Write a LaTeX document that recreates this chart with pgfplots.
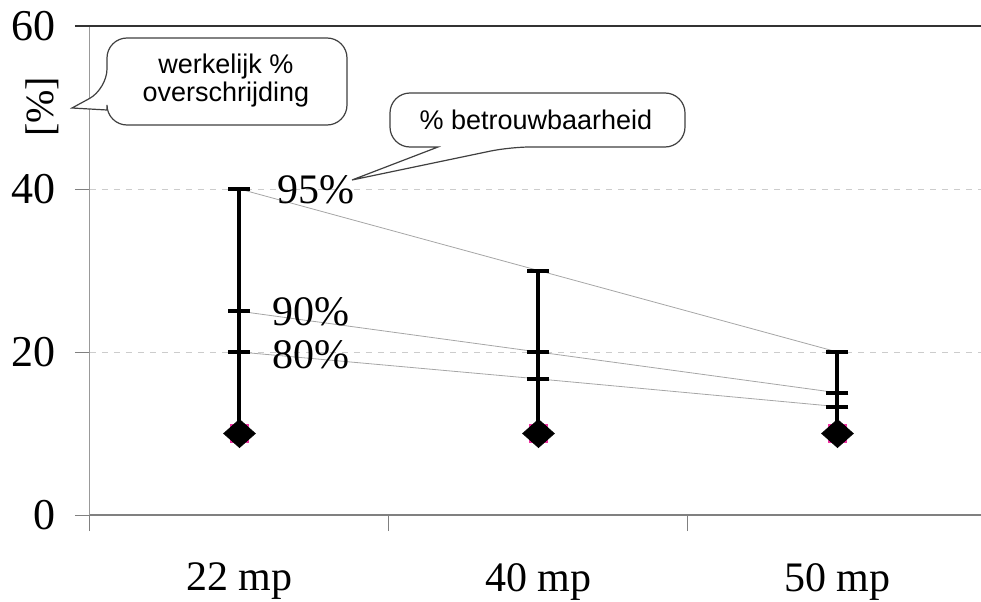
\documentclass[border=0pt]{standalone}
\usepackage{fontspec}
\setmainfont{Liberation Serif}
\newfontfamily\callfont{Liberation Sans}
\usepackage{pgfplots}
\pgfplotsset{compat=1.18}

\begin{document}
\begin{tikzpicture}
\begin{axis}[
    scale only axis,
    width=445.5pt, height=244.5pt,
    xmin=-0.5, xmax=2.48,
    ymin=0, ymax=60,
    clip=false,
    axis x line*=bottom,
    axis y line*=left,
    x axis line style={-, gray, line width=1pt},
    y axis line style={-, gray!80, line width=0.5pt},
    xtick={0,1,2},
    xticklabels={22 mp, 40 mp, 50 mp},
    major x tick style={draw=none},
    minor xtick={-0.5,0.5,1.5},
    minor x tick style={gray, line width=0.5pt},
    minor tick length=8pt,
    ytick={0,20,40,60},
    y tick style={gray, line width=0.5pt},
    major tick length=7.5pt,
    tick align=outside,
    ymajorgrids,
    major grid style={dashed, gray!40, line width=0.5pt},
    /pgf/number format/assume math mode=true,
    yticklabel style={font=\fontsize{22}{24}\selectfont, xshift=-6pt},
    xticklabel style={font=\fontsize{21}{24}\selectfont, yshift=-13pt},
]
% connecting lines for each reliability level
\addplot[gray!70, line width=0.4pt] coordinates {(0,40) (1,30) (2,20)};
\addplot[gray!70, line width=0.4pt] coordinates {(0,25) (1,20) (2,15)};
\addplot[gray!70, line width=0.4pt] coordinates {(0,20) (1,16.7) (2,13.3)};
% vertical bars
\addplot[black, line width=2pt] coordinates {(0,10) (0,40)};
\addplot[black, line width=2pt] coordinates {(1,10) (1,30)};
\addplot[black, line width=2pt] coordinates {(2,10) (2,20)};
% caps
\addplot[only marks, mark=-, mark size=5.5pt, mark options={black, line width=2pt}]
    coordinates {(0,40) (0,25) (0,20) (1,30) (1,20) (1,16.7) (2,20) (2,15) (2,13.3)};
% actual exceedance
\addplot[only marks, mark=square*, mark size=4.5pt, mark options={magenta!80, draw=none}]
    coordinates {(0,10) (1,10) (2,10)};
\addplot[only marks, mark=diamond*, mark size=7pt, mark options={black, xscale=1.5}]
    coordinates {(0,10) (1,10) (2,10)};

\node[anchor=west, font=\fontsize{21}{24}\selectfont, inner sep=0pt] at (axis cs:0.127,39.9) {95\%};
\node[anchor=west, font=\fontsize{21}{24}\selectfont, inner sep=0pt] at (axis cs:0.11,24.9) {90\%};
\node[anchor=west, font=\fontsize{21}{24}\selectfont, inner sep=0pt] at (axis cs:0.11,19.6) {80\%};
\end{axis}

% top border line
\draw[black!80, line width=1pt] (-7.5pt,244.5pt) -- (445.5pt,244.5pt);
% y label
\node[rotate=90, font=\fontsize{20}{24}\selectfont] at (-24pt,204pt) {[\%]};

% callout: werkelijk % overschrijding
\filldraw[fill=white, draw=black!75, line width=0.6pt]
    (8.5pt,202.5pt) [rounded corners=10pt] -- (8.5pt,195pt) -- (128.5pt,195pt)
    -- (128.5pt,238.5pt) -- (8.5pt,238.5pt) -- (8.5pt,213pt)
    [sharp corners] -- (-9pt,203.5pt) -- cycle;
\node[font=\callfont\fontsize{13.5}{14}\selectfont, align=center] at (68pt,217pt)
    {werkelijk \%\\overschrijding};

% callout: % betrouwbaarheid
\filldraw[fill=white, draw=black!75, line width=0.6pt]
    (174pt,184pt) [rounded corners=10pt] -- (150pt,184pt) -- (150pt,211pt)
    -- (297.5pt,211pt) -- (297.5pt,184pt) -- (210pt,184pt)
    [sharp corners] -- (131pt,167.5pt) -- cycle;
\node[font=\callfont\fontsize{13.5}{14}\selectfont] at (223pt,197.5pt) {\% betrouwbaarheid};

\pgfresetboundingbox
\path[use as bounding box] (-45pt,-43pt) rectangle (445.5pt,257.5pt);
\end{tikzpicture}
\end{document}
